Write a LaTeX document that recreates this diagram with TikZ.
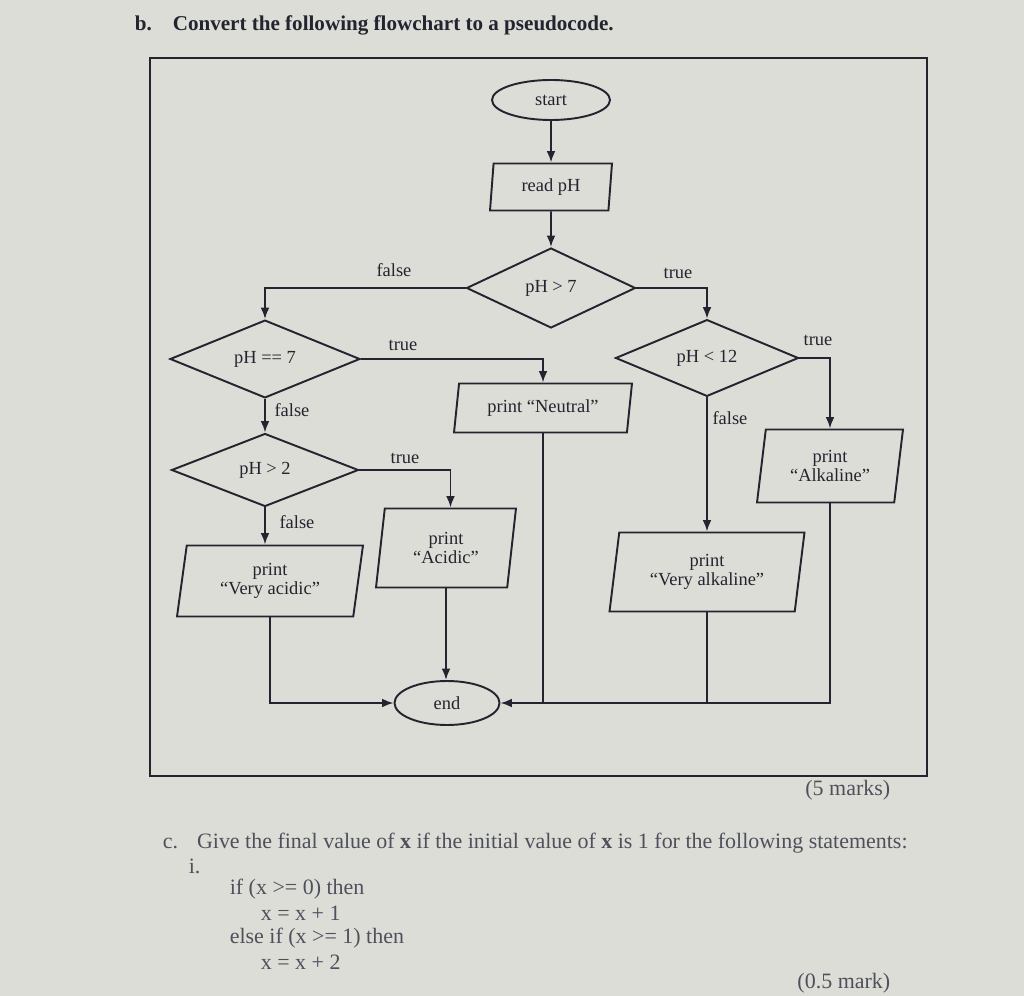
\documentclass[tikz,border=0pt]{standalone}
\usepackage{fontspec}
\setmainfont{Liberation Serif}
\usetikzlibrary{arrows.meta,shapes.geometric}
\definecolor{paper}{RGB}{221,221,215}
\definecolor{ink}{RGB}{34,37,47}
\definecolor{fade}{RGB}{78,80,92}

\begin{document}
\begin{tikzpicture}[x=0.02cm, y=-0.02cm, line width=1.1pt, color=ink,
  font=\fontsize{10.5}{11}\selectfont,
  term/.style={draw, ellipse, inner sep=0pt},
  io/.style={draw, trapezium, trapezium left angle=76, trapezium right angle=104,
    trapezium stretches body, inner sep=1pt, align=center},
  test/.style={draw, diamond, inner sep=0pt},
  lbl/.style={inner sep=1pt},
  arr/.style={-{Latex[length=6.5pt,width=5pt]}}]
  \fill[paper] (0,0) rectangle (1024,996);
  \useasboundingbox (0,0) rectangle (1024,996);
  \node[anchor=west, font=\fontsize{12}{14}\selectfont\bfseries] (title) at (128,25)
    {b.\hspace{0.42cm}Convert the following flowchart to a pseudocode.};
  \draw[line width=1.2pt] (150,58) rectangle (927,776);
  % flowchart
  \node[term, minimum width=2.36cm, minimum height=0.8cm] (start) at (551,100) {start};
  \node[io, trapezium left angle=80, trapezium right angle=100,
    minimum width=2.44cm, minimum height=0.94cm] (read) at (551,187) {read pH};
  \node[test, minimum width=3.38cm, minimum height=1.6cm] (gt7) at (551,288) {pH > 7};
  \node[test, minimum width=3.8cm, minimum height=1.38cm] (eq7) at (265,359) {pH == 7};
  \node[test, minimum width=3.74cm, minimum height=1.46cm] (gt2) at (265,470) {pH > 2};
  \node[test, minimum width=3.66cm, minimum height=1.42cm] (lt12) at (707,358) {pH < 12};
  \node[io, minimum width=3.56cm, minimum height=0.98cm] (neutral) at (543,408) {print “Neutral”};
  \node[io, minimum width=3.72cm, minimum height=1.42cm] (vacid) at (270,581) {print\\“Very acidic”};
  \node[io, minimum width=2.8cm, minimum height=1.58cm] (acid) at (446,548) {print\\“Acidic”};
  \node[io, minimum width=2.92cm, minimum height=1.46cm] (alk) at (830,466) {print\\“Alkaline”};
  \node[io, minimum width=3.9cm, minimum height=1.58cm] (valk) at (707,572) {print\\“Very alkaline”};
  \node[term, minimum width=2.1cm, minimum height=0.88cm] (end) at (447,703) {end};

  \draw[arr] (start) -- (read);
  \draw[arr] (read) -- (gt7);
  \draw[arr] (gt7.west) -| (eq7.north);
  \draw[arr] (gt7.east) -| (lt12.north);
  \draw[arr] (eq7.east) -| (neutral.north);
  \draw[arr] (eq7.south) -- (gt2.north);
  \draw[arr] (gt2.east) -| (acid.top side);
  \draw[arr] (gt2.south) -- (gt2.south |- vacid.north);
  \draw[arr] (lt12.east) -| (alk.north);
  \draw[arr] (lt12.south) -- (lt12.south |- valk.north);
  \draw[arr] (vacid.south) |- (end.west);
  \draw[arr] (acid.south) -- (acid.south |- end.north);
  \draw[arr] (alk.south) |- (end.east);
  \draw (neutral.south) -- (neutral.south |- end.east);
  \draw (valk.south) -- (valk.south |- end.east);

  \node[lbl] (f1) at (394,270) {false};
  \node[lbl] (t1) at (678,273) {true};
  \node[lbl] (t2) at (403,345) {true};
  \node[lbl] (f2) at (292,410) {false};
  \node[lbl] (t3) at (405,458) {true};
  \node[lbl] (f3) at (297,522) {false};
  \node[lbl] (t4) at (818,340) {true};
  \node[lbl] (f4) at (730,418) {false};

  % part c
  \begin{scope}[font=\fontsize{12.5}{13}\selectfont, color=fade]
    \node[anchor=east] (mk5) at (897,790) {(5 marks)};
    \node[anchor=west] (qc) at (156,843)
      {c.\hspace{0.38cm}Give the final value of \textbf{x} if the initial value of \textbf{x} is 1 for the following statements:};
    \node[anchor=west] (qi) at (182,866) {i.};
    \node[anchor=west] (l1) at (223,889) {if (x >= 0) then};
    \node[anchor=west] (l2) at (254,913) {x = x + 1};
    \node[anchor=west] (l3) at (223,938) {else if (x >= 1) then};
    \node[anchor=west] (l4) at (254,962) {x = x + 2};
    \node[anchor=east] (mk05) at (897,983) {(0.5 mark)};
  \end{scope}
\end{tikzpicture}
\end{document}
